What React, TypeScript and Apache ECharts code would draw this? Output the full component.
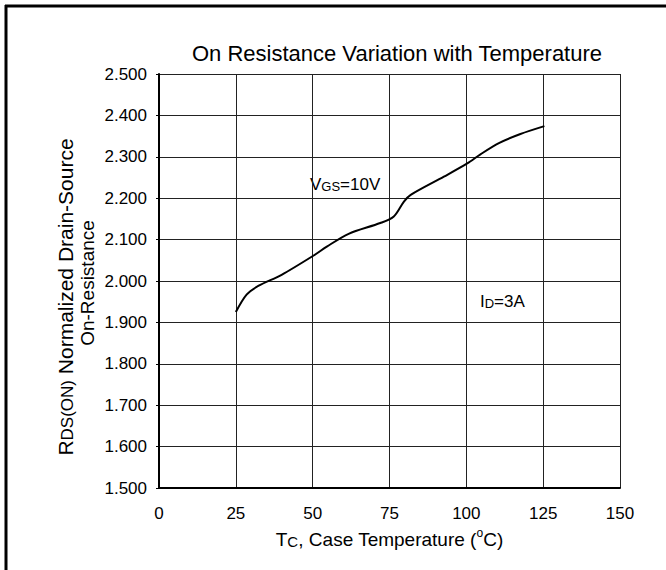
import React, { useEffect, useRef } from "react";
import * as echarts from "echarts";

const temperatures = [25, 28.5, 32.3, 39.9, 50.2, 54.6, 61.7, 72, 76.4, 79.7, 81.9, 92.7, 100.3, 104.6, 110.6, 117.6, 125.4];
const resistance = [1.925, 1.967, 1.988, 2.015, 2.061, 2.083, 2.114, 2.14, 2.156, 2.192, 2.208, 2.252, 2.284, 2.306, 2.333, 2.355, 2.374];
const xTicks = [0, 25, 50, 75, 100, 125, 150];
const yTicks = [1.5, 1.6, 1.7, 1.8, 1.9, 2.0, 2.1, 2.2, 2.3, 2.4, 2.5];

const FONT = "'Liberation Sans', Arial, sans-serif";

export default function App() {
  const ref = useRef<HTMLDivElement>(null);
  useEffect(() => {
    if (!ref.current) return;
    const chart = echarts.init(ref.current, null, { renderer: "svg" });
    const data = temperatures.map((t, i) => [t, resistance[i]]);
    chart.setOption({
      animation: false,
      backgroundColor: "#ffffff",
      title: {
        text: "On Resistance Variation with Temperature",
        left: 392,
        top: 37,
        textAlign: "center",
        textStyle: { fontFamily: FONT, fontSize: 22, fontWeight: "normal", color: "#000" },
      },
      grid: { left: 159, right: 46, top: 74, bottom: 82, containLabel: false },
      xAxis: {
        type: "value",
        min: xTicks[0],
        max: xTicks[xTicks.length - 1],
        interval: 25,
        axisLine: { show: true, lineStyle: { color: "#000", width: 2 } },
        axisTick: { show: false },
        splitLine: { show: true, lineStyle: { color: "#222", width: 1 } },
        axisLabel: { margin: 17, fontFamily: FONT, fontSize: 17, color: "#000" },
        name: "{b|T}{s|C}{b|, Case Temperature (}{sup|o}{b|C)}",
        nameLocation: "middle",
        nameGap: 39,
        nameTextStyle: {
          rich: {
            b: { fontFamily: FONT, fontSize: 19, color: "#000", verticalAlign: "bottom", lineHeight: 22 },
            s: { fontFamily: FONT, fontSize: 15, color: "#000", verticalAlign: "bottom", lineHeight: 19 },
            sup: { fontFamily: FONT, fontSize: 12, color: "#000", verticalAlign: "top", lineHeight: 16 },
          },
        },
      },
      yAxis: {
        type: "value",
        min: yTicks[0],
        max: yTicks[yTicks.length - 1],
        interval: 0.1,
        axisLine: { show: true, lineStyle: { color: "#000", width: 2 } },
        axisTick: { show: true, length: 3, lineStyle: { color: "#000" } },
        splitLine: { show: true, lineStyle: { color: "#222", width: 1 } },
        axisLabel: {
          margin: 12,
          fontFamily: FONT,
          fontSize: 17,
          color: "#000",
          formatter: (v: number) => v.toFixed(3),
        },
      },
      series: [
        {
          type: "line",
          data,
          showSymbol: false,
          smooth: 0.3,
          lineStyle: { color: "#000", width: 2 },
        },
      ],
      graphic: [
        { type: "line", shape: { x1: 5, y1: 6, x2: 666, y2: 6 }, style: { stroke: "#000", lineWidth: 3 } },
        { type: "line", shape: { x1: 6, y1: 5, x2: 6, y2: 570 }, style: { stroke: "#000", lineWidth: 3 } },
        {
          type: "text",
          x: 64,
          y: 297,
          rotation: Math.PI / 2,
          style: {
            text: "{b|R}{s|DS(ON)}{b| Normalized Drain-Source}",
            align: "center",
            verticalAlign: "middle",
            textAlign: "center",
            textVerticalAlign: "middle",
            rich: {
              b: { fontFamily: FONT, fontSize: 21, fill: "#000", verticalAlign: "bottom", lineHeight: 24 },
              s: { fontFamily: FONT, fontSize: 17, fill: "#000", verticalAlign: "bottom", lineHeight: 21 },
            },
          },
        },
        {
          type: "text",
          x: 87,
          y: 283,
          rotation: Math.PI / 2,
          style: {
            text: "On-Resistance",
            align: "center",
            verticalAlign: "middle",
            textAlign: "center",
            textVerticalAlign: "middle",
            font: `19px ${FONT}`,
            fill: "#000",
          },
        },
        {
          type: "text",
          x: 310,
          y: 183,
          style: {
            text: "{b|V}{s|GS}{b|=10V}",
            align: "left",
            verticalAlign: "middle",
            textAlign: "left",
            textVerticalAlign: "middle",
            rich: {
              b: { fontFamily: FONT, fontSize: 17, fill: "#000", verticalAlign: "bottom", lineHeight: 20 },
              s: { fontFamily: FONT, fontSize: 13, fill: "#000", verticalAlign: "bottom", lineHeight: 17 },
            },
          },
        },
        {
          type: "text",
          x: 480,
          y: 300,
          style: {
            text: "{b|I}{s|D}{b|=3A}",
            align: "left",
            verticalAlign: "middle",
            textAlign: "left",
            textVerticalAlign: "middle",
            rich: {
              b: { fontFamily: FONT, fontSize: 17, fill: "#000", verticalAlign: "bottom", lineHeight: 20 },
              s: { fontFamily: FONT, fontSize: 13, fill: "#000", verticalAlign: "bottom", lineHeight: 17 },
            },
          },
        },
      ],
    });
    return () => chart.dispose();
  }, []);
  return (
    <div
      ref={ref}
      style={{ position: "fixed", left: 0, top: 0, width: 666, height: 570 }}
    />
  );
}
